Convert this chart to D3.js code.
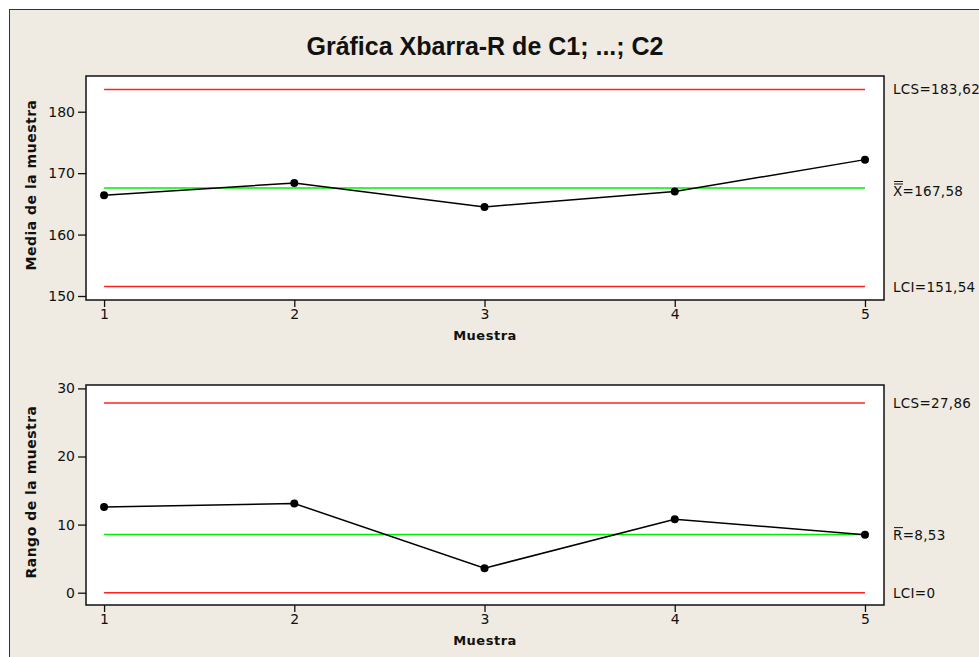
<!DOCTYPE html>
<html>
<head>
<meta charset="utf-8">
<script src="https://cdn.jsdelivr.net/npm/d3@7"></script>
<style>
  body { margin: 0; background: #fff; }
  text { font-family: Tahoma, "DejaVu Sans", Verdana, sans-serif; fill: #111; }
</style>
</head>
<body>
<script>
// data
const samples = [1, 2, 3, 4, 5];
const means = [166.4, 168.4, 164.5, 167.0, 172.2];
const ranges = [12.6, 13.1, 3.6, 10.8, 8.5];
const meanLimits = { lcs: 183.62, center: 167.58, lci: 151.54 };
const rangeLimits = { lcs: 27.86, center: 8.53, lci: 0 };
const meanTicks = [150, 160, 170, 180];
const rangeTicks = [0, 10, 20, 30];

const W = 979, H = 657;
const svg = d3.select("body").append("svg")
  .attr("width", W).attr("height", H);

// outer frame
svg.append("rect").attr("x", 0).attr("y", 0).attr("width", W).attr("height", H).attr("fill", "#fff");
svg.append("rect")
  .attr("x", 9.5).attr("y", 9.5).attr("width", W + 20).attr("height", H + 20)
  .attr("fill", "#efebe2").attr("stroke", "#333").attr("stroke-width", 1);

svg.append("text")
  .attr("x", 485).attr("y", 55)
  .attr("text-anchor", "middle")
  .attr("font-size", "25px")
  .attr("font-weight", "bold")
  .style("font-family", "'Liberation Sans', Arial, sans-serif")
  .text("Gráfica Xbarra-R de C1; ...; C2");

const x = d3.scaleLinear().domain([0.905, 5.1]).range([86, 884]);

function panel(cfg) {
  const y = d3.scaleLinear().domain(cfg.domain).range([cfg.bottom, cfg.top]);
  const g = svg.append("g");

  g.append("rect")
    .attr("x", 86).attr("y", cfg.top)
    .attr("width", 884 - 86).attr("height", cfg.bottom - cfg.top)
    .attr("fill", "#fff").attr("stroke", "#111").attr("stroke-width", 1.5);

  // y axis
  const ya = g.append("g")
    .attr("transform", "translate(86,0)")
    .call(d3.axisLeft(y).tickValues(cfg.ticks).tickSize(8).tickPadding(3));
  ya.select(".domain").remove();
  ya.selectAll("line").attr("stroke", "#111").attr("stroke-width", 1.3);
  ya.selectAll("text").attr("font-size", "14px").style("font-family", "Tahoma, 'DejaVu Sans', sans-serif");

  // x axis
  const xa = g.append("g")
    .attr("transform", `translate(0,${cfg.bottom})`)
    .call(d3.axisBottom(x).tickValues(samples).tickFormat(d3.format("d")).tickSize(7).tickPadding(2));
  xa.select(".domain").remove();
  xa.selectAll("line").attr("stroke", "#111").attr("stroke-width", 1.3);
  xa.selectAll("text").attr("font-size", "14px").style("font-family", "Tahoma, 'DejaVu Sans', sans-serif");

  g.append("text")
    .attr("x", 485).attr("y", cfg.bottom + 40)
    .attr("text-anchor", "middle")
    .attr("font-size", "13px").attr("font-weight", "bold")
    .attr("letter-spacing", "0.5px")
    .text("Muestra");

  g.append("text")
    .attr("transform", `translate(36,${(cfg.top + cfg.bottom) / 2 - 3}) rotate(-90)`)
    .attr("text-anchor", "middle")
    .attr("font-size", "14px").attr("font-weight", "bold")
    .attr("letter-spacing", "0.5px")
    .text(cfg.ylabel);

  // control limits
  const lims = [
    { v: cfg.limits.lcs, c: "#ff2020" },
    { v: cfg.limits.center, c: "#00ee00" },
    { v: cfg.limits.lci, c: "#ff2020" }
  ];
  g.selectAll(".lim").data(lims).join("line")
    .attr("x1", x(1)).attr("x2", x(5))
    .attr("y1", d => y(d.v)).attr("y2", d => y(d.v))
    .attr("stroke", d => d.c).attr("stroke-width", 1.5);

  // series
  const pts = samples.map((s, i) => [s, cfg.values[i]]);
  g.append("path")
    .datum(pts)
    .attr("fill", "none").attr("stroke", "#000").attr("stroke-width", 1.5)
    .attr("d", d3.line().x(d => x(d[0])).y(d => y(d[1])));
  g.selectAll(".pt").data(pts).join("circle")
    .attr("cx", d => x(d[0])).attr("cy", d => y(d[1])).attr("r", 4)
    .attr("fill", "#000");

  // right labels
  cfg.labels.forEach(lab => {
    const base = y(lab.v) + 5 + (lab.dy || 0);
    g.append("text")
      .attr("x", 893).attr("y", base)
      .attr("font-size", "13.5px")
      .attr("letter-spacing", "0.3px")
      .text(lab.text);
    if (lab.bar) {
      const ty = base - 12;
      for (let k = 0; k < lab.bar; k++) {
        g.append("line")
          .attr("x1", 894).attr("x2", 903)
          .attr("y1", ty - k * 2.5).attr("y2", ty - k * 2.5)
          .attr("stroke", "#111").attr("stroke-width", 1);
      }
    }
  });
}

panel({
  top: 76, bottom: 300,
  domain: [150 - 4 / 6.143, 150 + 220 / 6.143],
  ticks: meanTicks,
  values: means,
  limits: meanLimits,
  ylabel: "Media de la muestra",
  labels: [
    { v: meanLimits.lcs, text: "LCS=183,62" },
    { v: meanLimits.center, text: "X=167,58", bar: 2, dy: 3 },
    { v: meanLimits.lci, text: "LCI=151,54" }
  ]
});

panel({
  top: 385, bottom: 605,
  domain: [-12.3 / 6.81, 207.7 / 6.81],
  ticks: rangeTicks,
  values: ranges,
  limits: rangeLimits,
  ylabel: "Rango de la muestra",
  labels: [
    { v: rangeLimits.lcs, text: "LCS=27,86" },
    { v: rangeLimits.center, text: "R=8,53", bar: 1 },
    { v: rangeLimits.lci, text: "LCI=0" }
  ]
});
</script>
</body>
</html>
